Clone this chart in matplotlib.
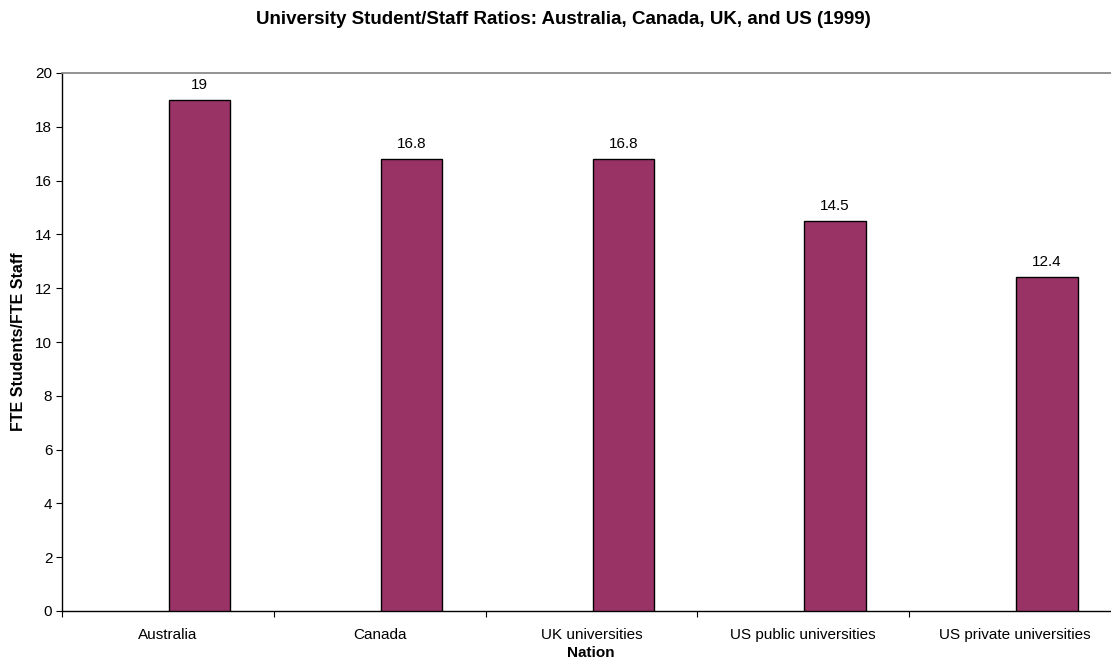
import numpy as np
import matplotlib
matplotlib.use('Agg')
import matplotlib.pyplot as plt
from matplotlib.ticker import FixedLocator, NullFormatter

plt.rcParams['font.family'] = ['Liberation Sans', 'DejaVu Sans']

nations = ['Australia', 'Canada', 'UK universities', 'US public universities',
           'US private universities']
ratios = [19, 16.8, 16.8, 14.5, 12.4]
value_labels = ['19', '16.8', '16.8', '14.5', '12.4']

W, H = 1111, 668
fig = plt.figure(figsize=(W / 100, H / 100), dpi=100)
# plot area runs past the right edge of the canvas
left, right, top, bottom = 62, 1121, 73, 611
ax = fig.add_axes([left / W, (H - bottom) / H, (right - left) / W, (bottom - top) / H])

x = np.arange(len(nations))
bar_w = 0.29
bar_off = 0.65
ax.bar(x + bar_off, ratios, width=bar_w, color='#993366', edgecolor='black',
       linewidth=1.0, zorder=3)
for xi, v, lab in zip(x, ratios, value_labels):
    ax.text(xi + bar_off, v + 0.3, lab, ha='center', va='bottom', fontsize=11)

ax.set_xlim(0, len(nations))
ax.set_ylim(0, 20)
ax.set_yticks(np.arange(0, 21, 2))
ax.tick_params(axis='y', labelsize=11, length=4, width=0.8, pad=3)

ax.xaxis.set_major_locator(FixedLocator(np.arange(0, len(nations) + 1)))
ax.xaxis.set_major_formatter(NullFormatter())
ax.xaxis.set_minor_locator(FixedLocator(x + 0.5))
ax.set_xticklabels(nations, minor=True)
ax.tick_params(axis='x', which='major', length=4, width=0.8, direction='out')
ax.tick_params(axis='x', which='minor', length=0, labelsize=11, pad=12)

ax.spines['right'].set_visible(False)
ax.spines['top'].set_color('#808080')
ax.spines['top'].set_linewidth(1.2)
ax.spines['left'].set_linewidth(1.0)
ax.spines['bottom'].set_linewidth(1.0)

ax.set_ylabel('FTE Students/FTE Staff', fontsize=11.5, fontweight='bold')
ax.yaxis.set_label_coords(-36 / (right - left), 0.5)
fig.text(591 / W, 1 - 653 / H, 'Nation', ha='center', va='center',
         fontsize=11, fontweight='bold')
fig.text(563 / W, 1 - 20 / H,
         'University Student/Staff Ratios: Australia, Canada, UK, and US (1999)',
         ha='center', va='center', fontsize=13.5, fontweight='bold')

fig.savefig('out.png', dpi=100)
